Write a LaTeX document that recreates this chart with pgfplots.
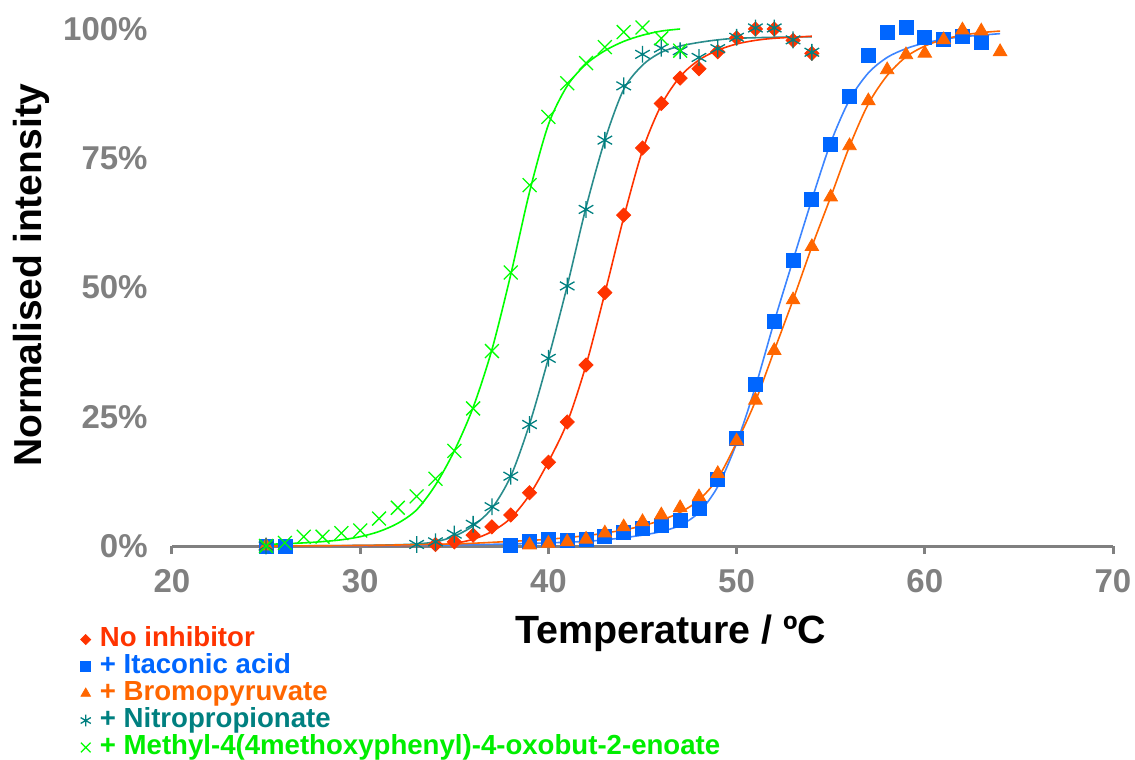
\documentclass[border=0pt]{standalone}
\usepackage{fontspec}
\setmainfont{Liberation Sans}
\usepackage{pgfplots}
\pgfplotsset{compat=1.18}
\definecolor{cRed}{HTML}{FF3300}
\definecolor{cBlue}{HTML}{0066FF}
\definecolor{cBlueL}{HTML}{3D85FF}
\definecolor{cOrange}{HTML}{FF6600}
\definecolor{cTeal}{HTML}{008080}
\definecolor{cTealL}{HTML}{2A8C8C}
\definecolor{cGreen}{HTML}{00FF00}
\definecolor{cGreenT}{HTML}{00EE00}
\definecolor{cGray}{HTML}{808080}
\pgfplotsset{mylegimg/.style={legend image code/.code={\draw[##1,/tikz/every mark/.append style={scale=0.7}] plot coordinates {(0cm,0cm)};}}}
\begin{document}
\begin{tikzpicture}
\useasboundingbox (-86pt,-107pt) rectangle (481.5pt,273pt);
\begin{axis}[
  at={(0,0)}, anchor=south west,
  scale only axis, width=470.5pt, height=258.5pt,
  xmin=20, xmax=70, ymin=0, ymax=100,
  clip=false,
  axis lines*=left, separate axis lines,
  x axis line style={cGray, line width=1.5pt},
  y axis line style={draw=none},
  xtick={20,30,40,50,60,70}, xticklabels={20,30,40,50,60,70},
  ytick={0,25,50,75,100}, yticklabels={0\%,25\%,50\%,75\%,100\%},
  tick align=outside, major tick length=4pt,
  xtick style={cGray, line width=1.5pt},
  ytick style={draw=none},
  xticklabel style={font=\fontsize{16.5}{19}\selectfont\bfseries, text=cGray, anchor=north, inner sep=0pt, yshift=-7.5pt},
  yticklabel style={font=\fontsize{16.5}{19}\selectfont\bfseries, text=cGray, anchor=east, inner sep=0pt, xshift=-8pt},
  xlabel={Temperature / ºC},
  ylabel={Normalised intensity},
  x label style={at={(axis description cs:0.530,-0.168)}, anchor=center, font=\fontsize{19.7}{22}\selectfont\bfseries},
  y label style={at={(axis description cs:-0.149,0.524)}, anchor=center, font=\fontsize{19.5}{22}\selectfont\bfseries},
  legend style={at={(rel axis cs:-0.0975,-0.154)}, anchor=north west, draw=none, fill=none, inner sep=0pt,
    font=\fontsize{13.8}{15}\selectfont\bfseries, row sep=0pt, column sep=4.3pt,
    nodes={inner sep=0.25pt, text height=10pt, text depth=3pt}},
  legend cell align=left,
]
% fitted curves
\addplot[cGreen, line width=0.8pt, smooth, forget plot] coordinates {
(25,0.3) (26,0.45) (27,0.6) (28,0.85) (29,1.2) (30,1.8) (31,2.8) (32,4.4) (33,7.0) (34,11.8) (35,18.4) (36,26.8) (37,38.0) (38,52.5) (39,68.5) (40,81.5) (41,89.0) (42,93.2) (43,95.8) (44,97.6) (45,98.8) (46,99.6) (47,100.0)};
\addplot[cTealL, line width=0.8pt, smooth, forget plot] coordinates {
(25,0) (30,0.1) (32,0.25) (33,0.4) (34,0.8) (35,1.9) (36,3.9) (37,7.3) (38,13.5) (39,23.6) (40,36.3) (41,50.3) (42,65.5) (43,78.5) (44,88.3) (45,93.0) (46,95.5) (47,96.7) (48,97.4) (49,97.9) (50,98.2) (52,98.4) (54,98.5)};
\addplot[cRed, line width=0.8pt, smooth, forget plot] coordinates {
(25,0) (30,0.05) (33,0.1) (34,0.2) (35,0.5) (36,1.3) (37,2.8) (38,5.4) (39,9.9) (40,16.3) (41,23.9) (42,35.0) (43,48.9) (44,63.5) (45,76.5) (46,85.3) (47,90.8) (48,94.0) (49,95.9) (50,97.1) (51,97.8) (52,98.2) (54,98.6)};
\addplot[cBlueL, line width=0.8pt, smooth, forget plot] coordinates {
(25,0) (30,0.05) (35,0.2) (38,0.4) (40,0.6) (42,0.9) (43,1.2) (44,1.6) (45,2.1) (46,2.8) (47,4.0) (48,6.5) (49,11.5) (50,19.9) (51,30.8) (52,43.4) (53,55.3) (54,67.0) (55,78.0) (56,86.3) (57,91.5) (58,94.5) (59,96.2) (60,97.3) (61,98.0) (62,98.5) (64,99.1)};
\addplot[cOrange, line width=0.8pt, smooth, forget plot] coordinates {
(25,0) (30,0.1) (35,0.4) (38,0.9) (40,1.3) (42,2.0) (43,2.5) (44,3.1) (45,3.9) (46,5.0) (47,6.5) (48,8.9) (49,13.1) (50,20.0) (51,28.0) (52,37.8) (53,47.6) (54,57.9) (55,67.5) (56,77.3) (57,85.5) (58,91.0) (59,94.6) (60,96.7) (61,98.0) (62,98.8) (63,99.3) (64,99.6)};
% data markers
\addplot[only marks, mark=square*, mark options={rotate=45}, cRed, mark size=2.5pt, mylegimg] coordinates {
(25,0) (34,0.3) (35,0.8) (36,2.1) (37,3.7) (38,6.0) (39,10.3) (40,16.2) (41,24.0) (42,35.0) (43,49.0) (44,64.0) (45,77.0) (46,85.6) (47,90.5) (48,92.3) (49,95.6) (50,98.3) (51,100.0) (52,100.0) (53,97.8) (54,95.3)};
\addlegendentry{\textcolor{cRed}{No inhibitor}}
\addplot[only marks, mark=square*, cBlue, mark size=3.5pt, mylegimg] coordinates {
(25,0) (26,0) (38,0.2) (39,0.8) (40,1.3) (41,1.1) (42,1.3) (43,1.8) (44,2.7) (45,3.5) (46,3.9) (47,5.0) (48,7.3) (49,12.8) (50,20.8) (51,31.3) (52,43.4) (53,55.2) (54,67.0) (55,77.6) (56,87.0) (57,94.8) (58,99.4) (59,100.3) (60,98.3) (61,98.0) (62,98.6) (63,97.4)};
\addlegendentry{\textcolor{cBlue}{+ Itaconic acid}}
\addplot[only marks, mark=triangle*, cOrange, mark size=3.9pt, mylegimg] coordinates {
(25,0) (39,0.2) (40,0.5) (41,0.8) (42,1.3) (43,2.5) (44,3.7) (45,4.7) (46,6.0) (47,7.4) (48,9.5) (49,14.0) (50,20.3) (51,28.2) (52,37.8) (53,47.6) (54,57.9) (55,67.5) (56,77.4) (57,86.1) (58,92.1) (59,95.0) (60,95.3) (61,97.9) (62,99.8) (63,99.6) (64,95.6)};
\addlegendentry{\textcolor{cOrange}{+ Bromopyruvate}}
\addplot[only marks, mark=asterisk, cTeal, mark size=4.2pt, line width=0.65pt, mylegimg] coordinates {
(25,0) (33,0.3) (34,0.8) (35,2.3) (36,4.2) (37,7.6) (38,13.5) (39,23.5) (40,36.3) (41,50.3) (42,65.1) (43,78.5) (44,89.0) (45,95.1) (46,96.3) (47,95.8) (48,94.5) (49,96.2) (50,98.4) (51,100.2) (52,100.2) (53,97.9) (54,95.5)};
\addlegendentry{\textcolor{cTeal}{+ Nitropropionate}}
\addplot[only marks, mark=x, cGreen, mark size=4.9pt, line width=0.65pt, mylegimg] coordinates {
(25,0) (26,0.6) (27,1.8) (28,1.8) (29,2.5) (30,3.0) (31,5.3) (32,7.4) (33,9.6) (34,13.0) (35,18.4) (36,26.6) (37,37.7) (38,52.9) (39,69.8) (40,83.0) (41,89.5) (42,93.4) (43,96.5) (44,99.4) (45,100.3) (46,98.2) (47,95.8)};
\addlegendentry{\textcolor{cGreenT}{+ Methyl-4(4methoxyphenyl)-4-oxobut-2-enoate}}
\end{axis}
\end{tikzpicture}
\end{document}
